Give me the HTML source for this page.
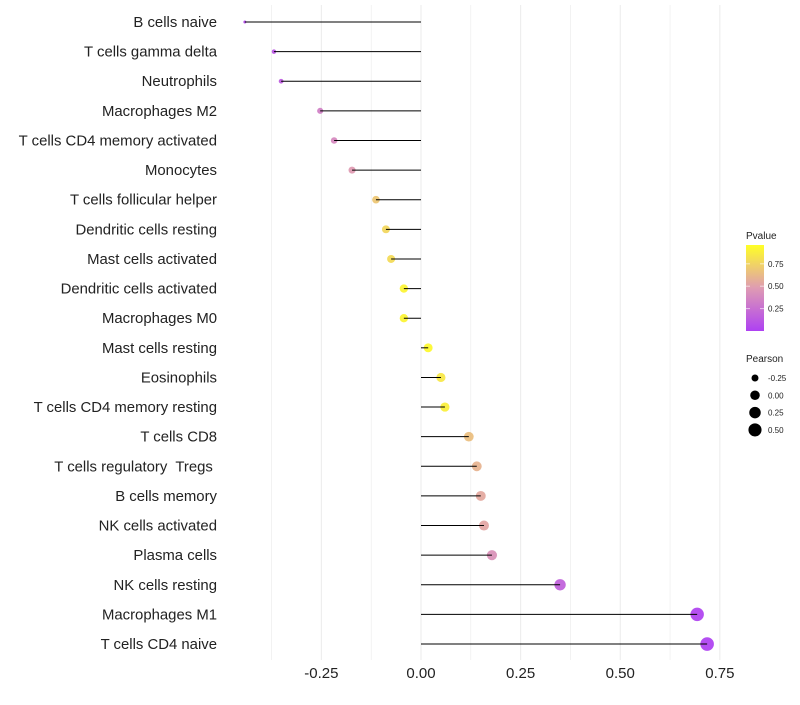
<!DOCTYPE html>
<html><head><meta charset="utf-8"><style>
body{margin:0;background:#fff;font-family:"Liberation Sans",sans-serif}
text{white-space:pre}
</style></head><body>
<svg id="chart" width="800" height="700"></svg>
<script>
const categories=["B cells naive","T cells gamma delta","Neutrophils","Macrophages M2","T cells CD4 memory activated","Monocytes","T cells follicular helper","Dendritic cells resting","Mast cells activated","Dendritic cells activated","Macrophages M0","Mast cells resting","Eosinophils","T cells CD4 memory resting","T cells CD8","T cells regulatory  Tregs ","B cells memory","NK cells activated","Plasma cells","NK cells resting","Macrophages M1","T cells CD4 naive"];
const pearson=[-0.442,-0.369,-0.351,-0.253,-0.218,-0.173,-0.113,-0.088,-0.075,-0.043,-0.043,0.018,0.05,0.06,0.12,0.14,0.15,0.158,0.178,0.349,0.693,0.718];
const pvalue=[0.05,0.12,0.15,0.35,0.4,0.5,0.72,0.8,0.82,0.95,0.95,0.97,0.88,0.92,0.68,0.62,0.57,0.55,0.45,0.18,0.02,0.01];
const xTicks=[-0.25,0,0.25,0.5,0.75];
const xTickLabels=["-0.25","0.00","0.25","0.50","0.75"];
const legendP=[0.25,0.5,0.75];
const legendR=[-0.25,0,0.25,0.5];
const NS="http://www.w3.org/2000/svg";
const svg=document.getElementById('chart');
const X=v=>421+v*398.5;
const Y=i=>22+i*29.62;
const minV=Math.min(...pearson),maxV=Math.max(...pearson);
const R=v=>Math.sqrt(2.25+(v-minV)/(maxV-minV)*(46.2-2.25));
function lerp(a,b,t){return a.map((x,i)=>Math.round(x+(b[i]-x)*t));}
function col(p){const s=[[160,32,240],[217,138,165],[255,255,0]];
 const t=Math.max(0,Math.min(1,p));const c=t<0.5?lerp(s[0],s[1],t*2):lerp(s[1],s[2],(t-0.5)*2);return `rgb(${c})`;}
function el(t,a,p){const e=document.createElementNS(NS,t);for(const k in a)e.setAttribute(k,a[k]);(p||svg).appendChild(e);return e;}
[-0.375,-0.25,-0.125,0,0.125,0.25,0.375,0.5,0.625,0.75].forEach(v=>{
 const g=el('line',{x1:X(v),x2:X(v),y1:5,y2:660,stroke:'#ebebeb','stroke-width':v*8%2==0?1:0.6});
 
 
});
xTicks.forEach((v,i)=>{
 const t=el('text',{x:X(v),y:678,'text-anchor':'middle','font-size':15,fill:'#222'});t.textContent=xTickLabels[i];
 
 
});
categories.forEach((c,i)=>{
 const t=el('text',{x:217,y:Y(i)+5,'text-anchor':'end','font-size':14.9,fill:'#222'});t.textContent=c;
 
 
 const d=el('circle',{cx:X(pearson[i]),cy:Y(i),r:R(pearson[i]),fill:col(pvalue[i]),'fill-opacity':0.8});
 
 
 const l=el('line',{x1:X(0),x2:X(pearson[i]),y1:Y(i),y2:Y(i),stroke:'#000','stroke-width':1});
 
 
});
const defs=el('defs',{});
const gr=el('linearGradient',{id:'pg',x1:0,y1:1,x2:0,y2:0},defs);
[0,0.25,0.5,0.75,1].forEach(o=>el('stop',{offset:o,'stop-color':col(o)},gr));
let t=el('text',{x:746,y:239,'font-size':10,fill:'#222'});t.textContent='Pvalue';


const bar=el('rect',{x:746,y:245,width:18,height:86,fill:'url(#pg)','fill-opacity':0.85});


legendP.forEach(p=>{
 const y=331-p/0.96*86;
 el('line',{x1:746,x2:750,y1:y,y2:y,stroke:'#fff','stroke-opacity':0.6});
 el('line',{x1:760,x2:764,y1:y,y2:y,stroke:'#fff','stroke-opacity':0.6});
 const tt=el('text',{x:768,y:y+3,'font-size':8,fill:'#222'});tt.textContent=p.toFixed(2);
 
 
});
t=el('text',{x:746,y:362,'font-size':10,fill:'#222'});t.textContent='Pearson';


legendR.forEach((v,i)=>{
 const y=378+i*17.3;
 const c=el('circle',{cx:755,cy:y,r:R(v)+0.4,fill:'#000'});
 
 
 const tt=el('text',{x:768,y:y+3,'font-size':8,fill:'#222'});tt.textContent=v.toFixed(2);
 
 
});
</script>
</body></html>
